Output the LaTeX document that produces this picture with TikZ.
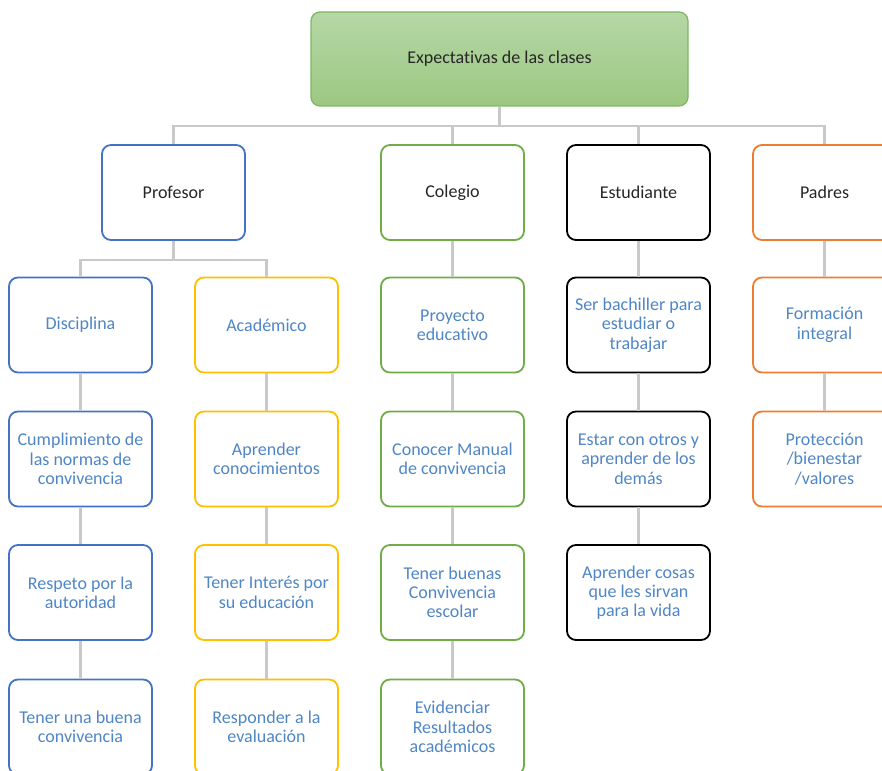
\documentclass[tikz,border=0pt]{standalone}
\usepackage{fontspec}
\setmainfont{Carlito}[Ligatures={NoCommon},RawFeature={-liga;-dlig}]
\definecolor{cblue}{HTML}{4472C4}
\definecolor{cyellow}{HTML}{FFC000}
\definecolor{cgreen}{HTML}{70AD47}
\definecolor{corange}{HTML}{ED7D31}
\definecolor{ctext}{HTML}{4F86C6}
\definecolor{cdark}{HTML}{262626}
\definecolor{cline}{HTML}{C9C9C9}
\definecolor{gtop}{HTML}{B6D7A6}
\definecolor{gbot}{HTML}{9CC882}
\definecolor{gborder}{HTML}{80B763}
\tikzset{
  box/.style={rectangle, rounded corners=9pt, minimum width=143pt, minimum height=95pt,
    line width=1.8pt, fill=white, align=center, inner sep=2pt, text=ctext,
    font=\fontsize{18}{19.3}\selectfont},
  headbox/.style={box, text=cdark},
  conn/.style={draw=cline, line width=2.2pt},
}
\begin{document}
\begin{tikzpicture}[x=1pt,y=-1pt]
\useasboundingbox (0,0) rectangle (882,770);
\clip (0,0) rectangle (882,770);
\fill[white] (0,0) rectangle (882,770);

% top
\node[rectangle, rounded corners=9pt, minimum width=377pt, minimum height=94pt,
  top color=gtop, bottom color=gbot, draw=gborder, line width=1.3pt,
  text=cdark, font=\fontsize{18}{19.3}\selectfont] (top) at (499.5,59) {Expectativas de las clases};

% level 1
\node[headbox, draw=cblue] (prof) at (173.5,192.5) {Profesor};
\node[headbox, draw=cgreen] (col) at (452.5,192.5) {Colegio};
\node[headbox, draw=black] (est) at (638.5,192.5) {Estudiante};
\node[headbox, draw=corange] (pad) at (824.5,192.5) {Padres};

% Profesor branch
\node[box, draw=cblue] (dis) at (80.5,325) {Disciplina};
\node[box, draw=cyellow] (aca) at (266.5,325) {Académico};
\node[box, draw=cblue] (cum) at (80.5,459) {Cumplimiento de\\las normas de\\convivencia};
\node[box, draw=cblue] (res) at (80.5,592.5) {Respeto por la\\autoridad};
\node[box, draw=cblue] (ten) at (80.5,727) {Tener una buena\\convivencia};
\node[box, draw=cyellow] (apr) at (266.5,459) {Aprender\\conocimientos};
\node[box, draw=cyellow] (int) at (266.5,592.5) {Tener Interés por\\su educación};
\node[box, draw=cyellow] (rsp) at (266.5,727) {Responder a la\\evaluación};

% Colegio branch
\node[box, draw=cgreen] (pro) at (452.5,325) {Proyecto\\educativo};
\node[box, draw=cgreen] (con) at (452.5,459) {Conocer Manual\\de convivencia};
\node[box, draw=cgreen] (bue) at (452.5,592.5) {Tener buenas\\Convivencia\\escolar};
\node[box, draw=cgreen] (evi) at (452.5,727) {Evidenciar\\Resultados\\académicos};

% Estudiante branch
\node[box, draw=black] (bac) at (638.5,325) {Ser bachiller para\\estudiar o\\trabajar};
\node[box, draw=black] (otr) at (638.5,459) {Estar con otros y\\aprender de los\\demás};
\node[box, draw=black] (cos) at (638.5,592.5) {Aprender cosas\\que les sirvan\\para la vida};

% Padres branch
\node[box, draw=corange] (for) at (824.5,325) {Formación\\integral};
\node[box, draw=corange] (prt) at (824.5,459) {Protección\\/bienestar\\/valores};

% connectors
\draw[conn] (top.south) -- ++(0,19.5) -| (prof.north);
\draw[conn] (top.south) -- ++(0,19.5) -| (col.north);
\draw[conn] (top.south) -- ++(0,19.5) -| (est.north);
\draw[conn] (top.south) -- ++(0,19.5) -| (pad.north);
\draw[conn] (prof.south) -- ++(0,19) -| (dis.north);
\draw[conn] (prof.south) -- ++(0,19) -| (aca.north);
\draw[conn] (dis) -- (cum);
\draw[conn] (cum) -- (res);
\draw[conn] (res) -- (ten);
\draw[conn] (aca) -- (apr);
\draw[conn] (apr) -- (int);
\draw[conn] (int) -- (rsp);
\draw[conn] (col) -- (pro);
\draw[conn] (pro) -- (con);
\draw[conn] (con) -- (bue);
\draw[conn] (bue) -- (evi);
\draw[conn] (est) -- (bac);
\draw[conn] (bac) -- (otr);
\draw[conn] (otr) -- (cos);
\draw[conn] (pad) -- (for);
\draw[conn] (for) -- (prt);
\end{tikzpicture}
\end{document}
